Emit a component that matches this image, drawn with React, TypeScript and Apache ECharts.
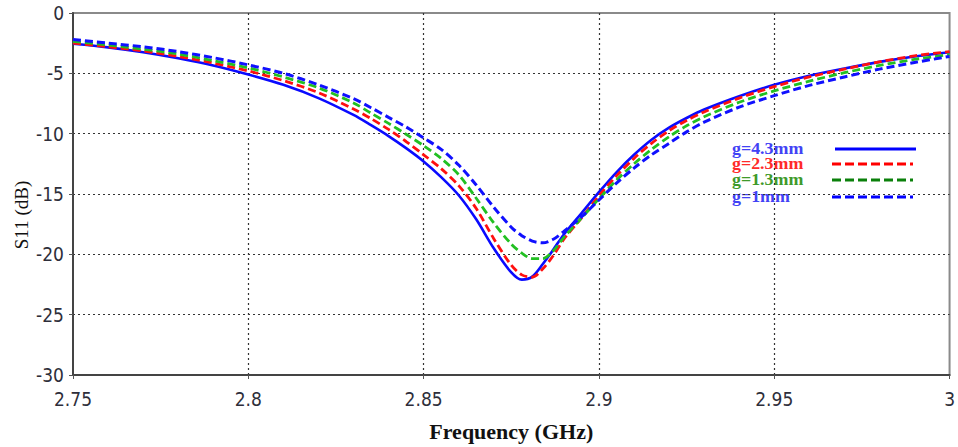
import React, { useEffect, useRef } from "react";
import * as echarts from "echarts";

// Frequency grid (GHz)
const freqs = [
  2.75, 2.76, 2.77, 2.78, 2.79, 2.8, 2.81, 2.82, 2.83, 2.835, 2.84, 2.845, 2.85,
  2.855, 2.86, 2.865, 2.87, 2.875, 2.878, 2.881, 2.884, 2.887, 2.89, 2.895, 2.9,
  2.905, 2.91, 2.915, 2.92, 2.925, 2.93, 2.94, 2.95, 2.96, 2.97, 2.98, 2.99, 3.0,
];

// S11 (dB) for each gap g
const s11_g43 = [
  -2.55, -2.85, -3.25, -3.75, -4.35, -5.1, -5.95, -7.05, -8.45, -9.3, -10.2, -11.2, -12.3,
  -13.6, -15.1, -17.1, -19.5, -21.5, -22.1, -21.85, -20.8, -19.6, -18.35, -16.6, -14.85,
  -13.2, -11.75, -10.5, -9.5, -8.7, -8.0, -6.9, -5.95, -5.2, -4.6, -4.05, -3.6, -3.25,
];
const s11_g23 = [
  -2.5, -2.8, -3.15, -3.6, -4.15, -4.8, -5.6, -6.6, -7.95, -8.75, -9.65, -10.65, -11.75,
  -12.9, -14.3, -16.2, -18.7, -20.9, -21.7, -21.9, -21.2, -20.1, -18.75, -17.0, -15.15,
  -13.5, -12.05, -10.8, -9.75, -8.9, -8.2, -7.05, -6.1, -5.3, -4.65, -4.05, -3.55, -3.2,
];
const s11_g13 = [
  -2.35, -2.65, -3.0, -3.4, -3.95, -4.55, -5.3, -6.2, -7.45, -8.3, -9.15, -10.05, -11.0,
  -12.05, -13.4, -15.35, -17.4, -19.15, -19.9, -20.35, -20.35, -19.7, -18.6, -17.0, -15.4,
  -13.85, -12.5, -11.3, -10.25, -9.35, -8.6, -7.4, -6.45, -5.65, -4.95, -4.35, -3.85, -3.45,
];
const s11_g1 = [
  -2.2, -2.5, -2.8, -3.2, -3.7, -4.3, -5.0, -5.95, -7.1, -7.85, -8.65, -9.45, -10.35,
  -11.3, -12.6, -14.25, -16.1, -17.75, -18.45, -18.9, -19.05, -18.75, -18.1, -16.9, -15.5,
  -14.1, -12.85, -11.75, -10.8, -9.85, -9.05, -7.8, -6.85, -6.0, -5.3, -4.65, -4.1, -3.6,
];

const legendLabels = ["g=4.3mm", "g=2.3mm", "g=1.3mm", "g=1mm"];

const xAxisTitle = "Frequency (GHz)";
const yAxisTitle = "S11 (dB)";

const labelFont = "'Liberation Sans Narrow', 'DejaVu Sans Condensed', 'Arial Narrow', sans-serif";
const serifFont = "'Liberation Serif', 'DejaVu Serif', serif";

export default function App() {
  const ref = useRef<HTMLDivElement>(null);

  useEffect(() => {
    if (!ref.current) return;
    const chart = echarts.init(ref.current, null, { renderer: "svg" });

    const toPts = (arr: number[]) => freqs.map((f, i) => [f, arr[i]]);

    const curveStyles = [
      { color: "#0a0aff", type: "solid" as any, width: 2.6 },
      { color: "#ff1010", type: [8, 4] as any, width: 2.8 },
      { color: "#22c022", type: [8, 4] as any, width: 2.8 },
      { color: "#1010ff", type: [8, 4] as any, width: 3 },
    ];
    const dataSets = [s11_g43, s11_g23, s11_g13, s11_g1];

    const legendTextColors = ["#4242f5", "#ff2a2a", "#3f9a2a", "#4242f5"];
    const legendLineColors = ["#0000ff", "#ff0000", "#0a800a", "#0000ff"];
    const legendRowsY = [149, 164, 180, 197];

    const graphics: any[] = [];
    legendLabels.forEach((lab, i) => {
      graphics.push({
        type: "text",
        x: 732,
        y: legendRowsY[i],
        scaleX: 1.12,
        style: {
          text: lab,
          fill: legendTextColors[i],
          fontSize: 16,
          fontWeight: "bold",
          fontFamily: serifFont,
          verticalAlign: "middle",
          align: "left",
        },
      });
      graphics.push({
        type: "line",
        shape: { x1: i === 0 ? 835 : 832, y1: legendRowsY[i], x2: i === 0 ? 916 : 913, y2: legendRowsY[i] },
        style: {
          stroke: legendLineColors[i],
          lineWidth: 3,
          lineDash: i === 0 ? null : [9, 4],
        },
      });
    });
    graphics.push({
      type: "text",
      x: 21,
      y: 215,
      rotation: Math.PI / 2,
      style: {
        text: yAxisTitle,
        fill: "#111",
        fontSize: 19,
        fontFamily: serifFont,
        align: "center",
        verticalAlign: "middle",
      },
    });

    chart.setOption({
      animation: false,
      backgroundColor: "#ffffff",
      grid: {
        left: 73,
        right: 7.5,
        top: 13,
        bottom: 70,
        show: true,
        borderColor: "#8a8a8a",
        borderWidth: 2,
        backgroundColor: "transparent",
      },
      xAxis: {
        type: "value",
        min: 2.75,
        max: 3,
        interval: 0.05,
        name: xAxisTitle,
        nameLocation: "middle",
        nameGap: 45,
        nameTextStyle: {
          fontFamily: serifFont,
          fontWeight: "bold",
          fontSize: 22,
          color: "#111",
        },
        axisLine: { show: true, onZero: false, lineStyle: { color: "#444", width: 2 } },
        axisTick: { show: true, inside: false, length: 4, lineStyle: { color: "#555" } },
        axisLabel: {
          margin: 14,
          fontSize: 19,
          fontFamily: labelFont,
          color: "#2e2e3a",
          formatter: (v: number) => String(parseFloat(v.toFixed(2))),
        },
        splitLine: {
          show: true,
          showMinLine: false,
          showMaxLine: false,
          lineStyle: { color: "#333", type: [2, 3], width: 1.2 },
        },
      },
      yAxis: {
        type: "value",
        min: -30,
        max: 0,
        interval: 5,
        axisLine: { show: true, lineStyle: { color: "#444", width: 2 } },
        axisTick: { show: true, inside: false, length: 4, lineStyle: { color: "#555" } },
        axisLabel: {
          margin: 9,
          fontSize: 19,
          fontFamily: labelFont,
          color: "#2e2e3a",
        },
        splitLine: {
          show: true,
          showMinLine: false,
          showMaxLine: false,
          lineStyle: { color: "#333", type: [2, 3], width: 1.2 },
        },
      },
      series: dataSets.map((arr, i) => ({
        name: legendLabels[i],
        type: "line",
        data: toPts(arr),
        smooth: 0.3,
        symbol: "none",
        lineStyle: curveStyles[i],
        z: 3 + i,
      })),
      graphic: graphics,
    });

    return () => {
      chart.dispose();
    };
  }, []);

  return (
    <div
      ref={ref}
      style={{ position: "absolute", left: 0, top: 0, width: 958, height: 447, background: "#fff" }}
    />
  );
}
